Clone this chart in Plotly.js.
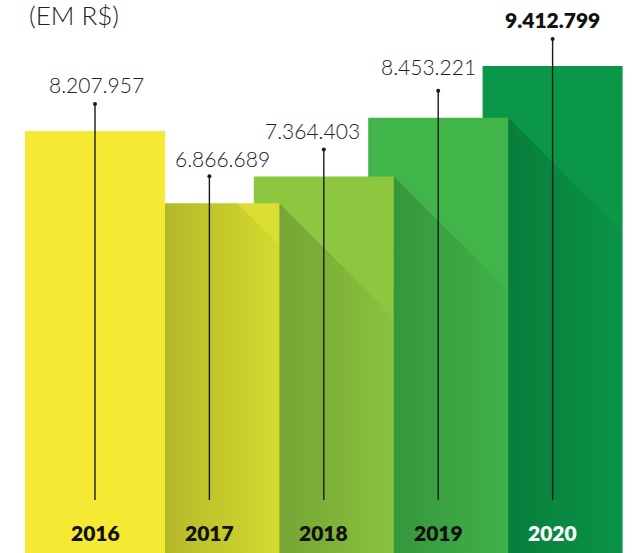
<!DOCTYPE html>
<html>
<head>
<meta charset="utf-8">
<script src="https://cdn.plot.ly/plotly-3.0.1.min.js"></script>
<style>
html,body{margin:0;padding:0;background:#fff;}
#chart{width:637px;height:553px;}
</style>
</head>
<body>
<div id="chart"></div>
<script>
// ---- data ----
const years = ["2016", "2017", "2018", "2019", "2020"];
const values = [8207957, 6866689, 7364403, 8453221, 9412799];
const valueLabels = ["8.207.957", "6.866.689", "7.364.403", "8.453.221", "9.412.799"];
const barColors = ["#F5E933", "#D9DE30", "#8DC63F", "#41B549", "#0A9748"];
const yearColors = ["#111111", "#111111", "#111111", "#111111", "#FFFFFF"];

// ---- layout constants ----
const W = 637, H = 553;
const pxPerX = 114.4, x0px = 95;               // horizontal scale
const pxPerUnit = 53.95 / 1e6, basePx = 573.8; // vertical scale
const barWidth = 140 / pxPerX;
const xRange = [-x0px / pxPerX, (W - x0px) / pxPerX];
const yRange = [(basePx - H) / pxPerUnit, basePx / pxPerUnit];
const diag = pxPerX / pxPerUnit; // value change per x unit for a 45 degree shadow edge
const labelShift = [1, 13, -11, -10, 0];
const labelLift = [46, 45, 46, 51, 46];
const lineTopOffset = 27 / pxPerUnit;
const lineBottom = (basePx - 500) / pxPerUnit;

const idx = years.map((_, i) => i);
const rev = idx.slice().reverse();

const traces = [];
traces.push({
  type: "bar",
  x: rev,
  y: rev.map(i => values[i]),
  width: barWidth,
  marker: { color: rev.map(i => barColors[i]), line: { width: 0 } },
  hoverinfo: "skip"
});

// shadows cast by previous bar onto the next bar's visible part
for (let i = 1; i < values.length; i++) {
  const xl = (i - 1) + barWidth / 2;
  const xr = i + barWidth / 2;
  const vp = values[i - 1], vc = values[i];
  const yAt = x => vp - (x - xl) * diag;
  let xs, ys;
  if (vp > vc) {
    const xsHit = xl + (vp - vc) / diag;
    if (xsHit >= xr) {
      xs = [xl, xr, xr, xl];
      ys = [vc, vc, 0, 0];
    } else {
      xs = [xl, xsHit, xr, xr, xl];
      ys = [vc, vc, yAt(xr), 0, 0];
    }
  } else {
    xs = [xl, xr, xr, xl];
    ys = [vp, yAt(xr), 0, 0];
  }
  xs.push(xs[0]); ys.push(ys[0]);
  traces.push({
    type: "scatter",
    mode: "lines",
    x: xs, y: ys,
    fill: "toself",
    line: { width: 0, color: "rgba(0,0,0,0)" },
    fillcolor: "rgba(0,0,0,0.09)",
    fillgradient: {
      type: "horizontal",
      colorscale: [[0, "rgba(0,0,0,0.17)"], [1, "rgba(0,0,0,0.02)"]]
    },
    hoverinfo: "skip",
    showlegend: false
  });
}

// dots at top of leader lines
traces.push({
  type: "scatter",
  mode: "markers",
  x: idx,
  y: idx.map(i => values[i] + lineTopOffset),
  marker: { size: 4, color: "#1a1a1a" },
  hoverinfo: "skip",
  showlegend: false
});

const shapes = idx.map(i => ({
  type: "line", xref: "x", yref: "y",
  x0: i, x1: i,
  y0: lineBottom, y1: values[i] + lineTopOffset,
  line: { color: "#1a1a1a", width: 1.4 },
  layer: "above"
}));

const annotations = [];
idx.forEach(i => {
  const bold = i === values.length - 1;
  annotations.push({
    x: i, y: values[i], xref: "x", yref: "y",
    text: valueLabels[i],
    showarrow: false,
    xshift: labelShift[i], yshift: labelLift[i],
    xanchor: "center", yanchor: "middle",
    font: { family: "Lato", size: 21, weight: bold ? 800 : 300, color: bold ? "#111" : "#222" }
  });
  annotations.push({
    x: i, y: 1 - 532.5 / H, xref: "x", yref: "paper",
    text: years[i],
    showarrow: false,
    xanchor: "center", yanchor: "middle",
    font: { family: "Lato", size: 21, weight: 800, color: yearColors[i] }
  });
});
annotations.push({
  x: 27 / W, y: 1 - 14.5 / H, xref: "paper", yref: "paper",
  text: "(EM R$)", showarrow: false,
  xanchor: "left", yanchor: "middle",
  font: { family: "Lato", size: 26, weight: 300, color: "#222" }
});

const layout = {
  width: W, height: H,
  margin: { l: 0, r: 0, t: 0, b: 0, pad: 0 },
  paper_bgcolor: "#fff", plot_bgcolor: "#fff",
  showlegend: false,
  barmode: "overlay",
  xaxis: { range: xRange, visible: false, fixedrange: true },
  yaxis: { range: yRange, visible: false, fixedrange: true },
  shapes: shapes,
  annotations: annotations
};

Plotly.newPlot("chart", traces, layout, { displayModeBar: false, staticPlot: true });
</script>
</body>
</html>
